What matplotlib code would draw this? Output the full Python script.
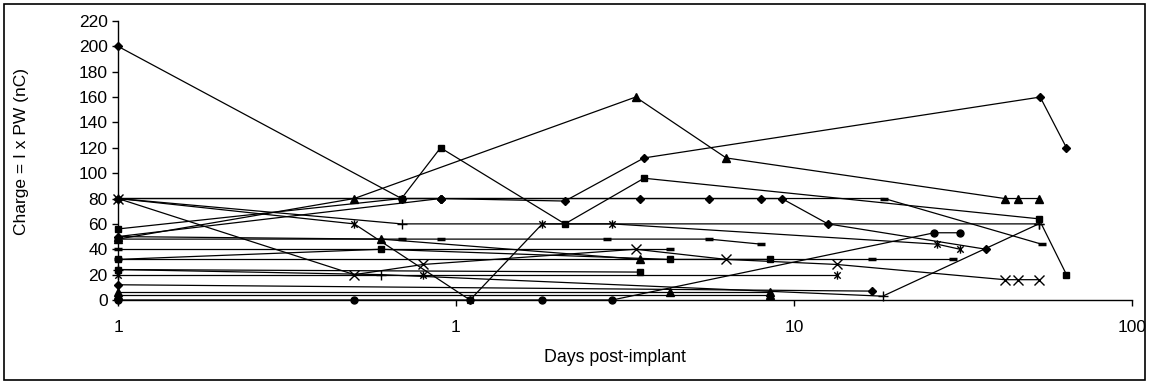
import matplotlib
matplotlib.use('Agg')
import matplotlib.pyplot as plt
from matplotlib.path import Path
from matplotlib.patches import Rectangle
from matplotlib.ticker import NullLocator

plt.rcParams['font.family'] = ['Liberation Sans', 'DejaVu Sans']

# Excel-like asterisk marker (x with a vertical bar)
star = Path([(-1, -1), (1, 1), (-1, 1), (1, -1), (0, -1.3), (0, 1.3)],
            [Path.MOVETO, Path.LINETO, Path.MOVETO, Path.LINETO, Path.MOVETO, Path.LINETO])

# days post-implant / charge (nC), one list pair per electrode
d1 = [0.1, 0.69, 0.9, 2.1, 3.6, 53.5, 64]
c1 = [200, 80, 80, 78, 112, 160, 120]
d2 = [0.1, 0.69, 0.9, 2.1, 3.6, 53, 64]
c2 = [56, 80, 120, 60, 96, 64, 20]
d3 = [0.1, 0.5, 3.4, 6.3, 42, 46, 53]
c3 = [48, 80, 160, 112, 80, 80, 80]
d4 = [0.1, 0.5, 0.8, 3.4, 6.3, 13.4, 42, 46, 53]
c4 = [80, 20, 28, 40, 32, 28, 16, 16, 16]
d5 = [0.1, 0.5, 1.1, 1.8, 2.9, 26.5, 31]
c5 = [80, 60, 0, 60, 60, 44, 40]
d6 = [0.1, 0.5, 1.1, 1.8, 2.9, 26, 31]
c6 = [0, 0, 0, 0, 0, 53, 53]
d7 = [0.1, 0.69, 53]
c7 = [80, 60, 60]
d8 = [0.1, 0.69, 0.9, 2.8, 5.6, 8.0]
c8 = [48, 48, 48, 48, 48, 44]
d9 = [0.1, 0.9, 3.5, 5.6, 8.0, 9.2, 12.6, 37]
c9 = [80, 80, 80, 80, 80, 80, 60, 40]
d10 = [0.1, 0.6, 4.3, 8.5]
c10 = [32, 40, 32, 32]
d11 = [0.1, 0.6, 3.5]
c11 = [50, 48, 32]
d12 = [0.1, 0.8, 13.4]
c12 = [20, 20, 20]
d13 = [0.1, 0.6, 18.3, 53]
c13 = [24, 20, 3, 60]
d14 = [0.1, 18.5, 54]
c14 = [80, 80, 44]
d15 = [0.1, 17, 29.6]
c15 = [32, 32, 32]
d16 = [0.1, 3.5]
c16 = [24, 22]
d17 = [0.1, 4.3, 8.5]
c17 = [6, 6, 6]
d18 = [0.1, 17]
c18 = [12, 7]
d19 = [0.1, 0.9]
c19 = [50, 80]
d20 = [0.1, 4.3]
c20 = [40, 40]
d21 = [0.1, 8.5]
c21 = [4, 4]

series = [
    (d1, c1, 'D'), (d2, c2, 's'), (d3, c3, '^'), (d4, c4, 'x'),
    (d5, c5, star), (d6, c6, 'o'), (d7, c7, '+'), (d8, c8, '_'),
    (d9, c9, 'D'), (d10, c10, 's'), (d11, c11, '^'), (d12, c12, star),
    (d13, c13, '+'), (d14, c14, '_'), (d15, c15, '_'), (d16, c16, 's'),
    (d17, c17, '^'), (d18, c18, 'D'), (d19, c19, 'D'), (d20, c20, '_'),
    (d21, c21, '^'),
]

sizes = {'D': 4.5, 's': 5, '^': 6, 'x': 6.5, 'o': 5, '+': 7, '_': 6}

fig = plt.figure(figsize=(11.49, 3.84), dpi=100)
ax = fig.add_axes([0.1027, 0.2188, 0.8825, 0.7266])

for d, c, m in series:
    if isinstance(m, Path):
        ax.plot(d, c, color='black', lw=0.9, marker=m, ms=6, mew=1,
                mfc='none', mec='black', clip_on=False)
    elif m == '_':
        ax.plot(d, c, color='black', lw=0.9, marker=m, ms=6, mew=2.5,
                clip_on=False)
    else:
        ax.plot(d, c, color='black', lw=0.9, marker=m, ms=sizes[m],
                mew=1, mfc='black', mec='black', clip_on=False)

ax.set_xscale('log')
ax.set_xlim(0.1, 100)
ax.set_ylim(0, 220)
ax.set_xticks([0.1, 1, 10, 100])
ax.set_xticklabels(['1', '1', '10', '100'])
ax.xaxis.set_minor_locator(NullLocator())
ax.set_yticks(range(0, 221, 20))
ax.tick_params(axis='x', direction='out', length=4.3, width=1, labelsize=12.5,
               colors='black', pad=10)
ax.tick_params(axis='y', direction='out', length=4.3, width=1, labelsize=12.5,
               colors='black', pad=3)
for s in ['top', 'right']:
    ax.spines[s].set_visible(False)
for s in ['left', 'bottom']:
    ax.spines[s].set_linewidth(1)
    ax.spines[s].set_color('black')

fig.text(615 / 1149, 1 - 358 / 384, 'Days post-implant', ha='center',
         va='center', fontsize=12.8)
fig.text(22 / 1149, 1 - 151 / 384, 'Charge = I x PW (nC)', ha='center',
         va='center', rotation=90, fontsize=12.5)

fig.patches.append(Rectangle((4 / 1149, 4 / 384), 1141 / 1149, 376 / 384,
                             transform=fig.transFigure, fill=False,
                             edgecolor='black', linewidth=1.2))

fig.savefig('out.png', dpi=100)
